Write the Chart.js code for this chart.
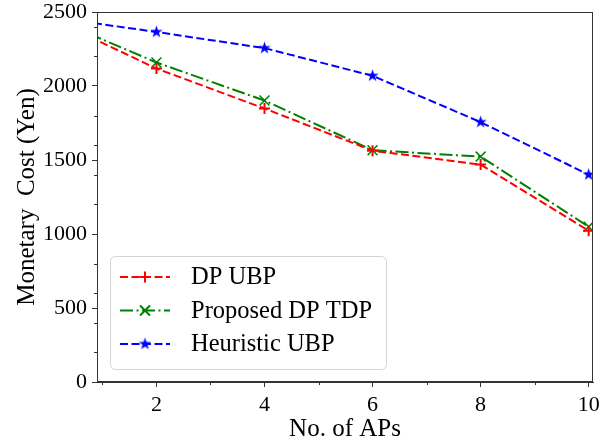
<!DOCTYPE html>
<html>
<head>
<meta charset="utf-8">
<script src="https://cdn.jsdelivr.net/npm/chart.js@4.4.0/dist/chart.umd.min.js"></script>
<style>
    html, body { margin: 0; padding: 0; background: #fff; }
    #wrap { width: 613px; height: 443px; }
</style>
</head>
<body>
<div id="wrap"><canvas id="costChart" width="613" height="443"></canvas></div>
<script>
// Data
const apCounts = [0, 2, 4, 6, 8, 10];
const dpUbp = [2465, 2118, 1848, 1563, 1469, 1022];
const proposedDpTdp = [2470, 2159, 1902, 1566, 1523, 1049];
const heuristicUbp = [2468, 2365, 2256, 2069, 1756, 1401];

const xMajorTicks = [2, 4, 6, 8, 10];
const xMinorTicks = [1, 3, 5, 7, 9];
const yMajorTicks = [0, 500, 1000, 1500, 2000, 2500];
const yMinorTicks = [200, 400, 600, 800, 1200, 1400, 1600, 1800, 2200, 2400];

const serif = "'Liberation Serif', 'Times New Roman', serif";

// filled five-point star marker like matplotlib '*'
function makeStar(color, outer, inner) {
    const size = Math.ceil(outer * 2 + 2);
    const c = document.createElement('canvas');
    c.width = size;
    c.height = size;
    const g = c.getContext('2d');
    g.fillStyle = color;
    g.beginPath();
    for (let i = 0; i < 10; i++) {
        const r = i % 2 === 0 ? outer : inner;
        const a = -Math.PI / 2 + i * Math.PI / 5;
        const px = size / 2 + r * Math.cos(a);
        const py = size / 2 + r * Math.sin(a);
        if (i === 0) g.moveTo(px, py); else g.lineTo(px, py);
    }
    g.closePath();
    g.fill();
    return c;
}
const blueStar = makeStar('#0000ff', 6.5, 2.6);

function toPoints(values) {
    return values.map((v, i) => ({ x: apCounts[i], y: v }));
}

// frame, minor ticks and the in-plot legend
const framePlugin = {
    id: 'frame',
    afterDraw(chart) {
        const ctx = chart.ctx;
        const area = chart.chartArea;
        const xs = chart.scales.x;
        const ys = chart.scales.y;
        ctx.save();
        ctx.strokeStyle = '#333';
        ctx.lineWidth = 1;
        ctx.strokeRect(area.left + 0.5, area.top + 0.5, area.right - area.left - 1, area.bottom - area.top - 1);

        ctx.beginPath();
        xMinorTicks.forEach(v => {
            const px = Math.round(xs.getPixelForValue(v)) + 0.5;
            ctx.moveTo(px, area.bottom);
            ctx.lineTo(px, area.bottom + 3);
        });
        yMinorTicks.forEach(v => {
            const py = Math.round(ys.getPixelForValue(v)) + 0.5;
            ctx.moveTo(area.left, py);
            ctx.lineTo(area.left - 3, py);
        });
        ctx.stroke();

        // legend box
        const bx = 110, by = 256, bw = 276, bh = 113;
        ctx.fillStyle = 'rgba(255,255,255,0.8)';
        ctx.strokeStyle = '#d4d4d4';
        ctx.beginPath();
        ctx.roundRect(bx + 0.5, by + 0.5, bw, bh, 5);
        ctx.fill();
        ctx.stroke();

        const rows = [277, 310.5, 344];
        chart.data.datasets.forEach((ds, i) => {
            const y = rows[i];
            ctx.save();
            ctx.strokeStyle = ds.borderColor;
            ctx.lineWidth = ds.borderWidth;
            ctx.setLineDash(ds.borderDash);
            ctx.beginPath();
            ctx.moveTo(120, y);
            ctx.lineTo(170, y);
            ctx.stroke();
            ctx.setLineDash([]);
            ctx.strokeStyle = ds.pointBorderColor;
            ctx.fillStyle = ds.pointBackgroundColor;
            Chart.helpers.drawPoint(ctx, {
                pointStyle: ds.pointStyle,
                rotation: 0,
                radius: ds.pointRadius,
                borderWidth: ds.pointBorderWidth
            }, 145, y);
            ctx.restore();

            ctx.fillStyle = '#000';
            ctx.font = '24.5px ' + serif;
            ctx.textBaseline = 'middle';
            ctx.textAlign = 'left';
            ctx.fillText(ds.label, 191, y + 1);
        });
        ctx.restore();
    }
};

const ctx = document.getElementById('costChart').getContext('2d');

new Chart(ctx, {
    type: 'line',
    data: {
        datasets: [
            {
                label: 'DP UBP',
                data: toPoints(dpUbp),
                borderColor: '#ff0000',
                borderWidth: 2,
                borderDash: [8, 3.5],
                pointStyle: 'cross',
                pointRadius: 5.5,
                pointBorderWidth: 2,
                pointBorderColor: '#ff0000',
                pointBackgroundColor: '#ff0000'
            },
            {
                label: 'Proposed DP TDP',
                data: toPoints(proposedDpTdp),
                borderColor: '#008000',
                borderWidth: 2,
                borderDash: [13, 3.5, 2, 3.5],
                pointStyle: 'crossRot',
                pointRadius: 7,
                pointBorderWidth: 1.5,
                pointBorderColor: '#008000',
                pointBackgroundColor: '#008000'
            },
            {
                label: 'Heuristic UBP',
                data: toPoints(heuristicUbp),
                borderColor: '#0000ff',
                borderWidth: 2,
                borderDash: [8, 3.5],
                pointStyle: blueStar,
                pointRadius: 6,
                pointBorderWidth: 1,
                pointBorderColor: '#0000ff',
                pointBackgroundColor: '#0000ff'
            }
        ]
    },
    options: {
        responsive: false,
        animation: false,
        layout: {
            padding: { top: 12, right: 20, left: 0, bottom: 0 }
        },
        scales: {
            x: {
                type: 'linear',
                min: 0.9,
                max: 10.08,
                afterBuildTicks: function(scale) {
                    scale.ticks = xMajorTicks.map(v => ({ value: v }));
                },
                afterFit: function(scale) {
                    scale.height = 61;
                    scale.paddingLeft = 0;
                    scale.paddingRight = 0;
                },
                grid: {
                    drawOnChartArea: false,
                    tickLength: 5,
                    tickColor: '#333'
                },
                border: { color: '#333' },
                ticks: {
                    padding: 5,
                    color: '#000',
                    font: { family: serif, size: 22 },
                    callback: value => String(value)
                },
                title: {
                    display: true,
                    text: 'No. of APs',
                    color: '#000',
                    font: { family: serif, size: 25, lineHeight: 1.0 },
                    padding: { top: 0, bottom: 1 }
                }
            },
            y: {
                min: 0,
                max: 2500,
                afterBuildTicks: function(scale) {
                    scale.ticks = yMajorTicks.map(v => ({ value: v }));
                },
                afterFit: function(scale) {
                    scale.width = 97;
                    scale.paddingTop = 0;
                    scale.paddingBottom = 0;
                },
                grid: {
                    drawOnChartArea: false,
                    tickLength: 5,
                    tickColor: '#333'
                },
                border: { color: '#333' },
                ticks: {
                    padding: 5,
                    color: '#000',
                    font: { family: serif, size: 22 },
                    callback: value => String(value)
                },
                title: {
                    display: true,
                    text: 'Monetary  Cost (Yen)',
                    color: '#000',
                    font: { family: serif, size: 25 },
                    padding: { top: 12, bottom: 0 }
                }
            }
        },
        plugins: {
            legend: { display: false },
            tooltip: { enabled: false }
        }
    },
    plugins: [framePlugin]
});
</script>
</body>
</html>
